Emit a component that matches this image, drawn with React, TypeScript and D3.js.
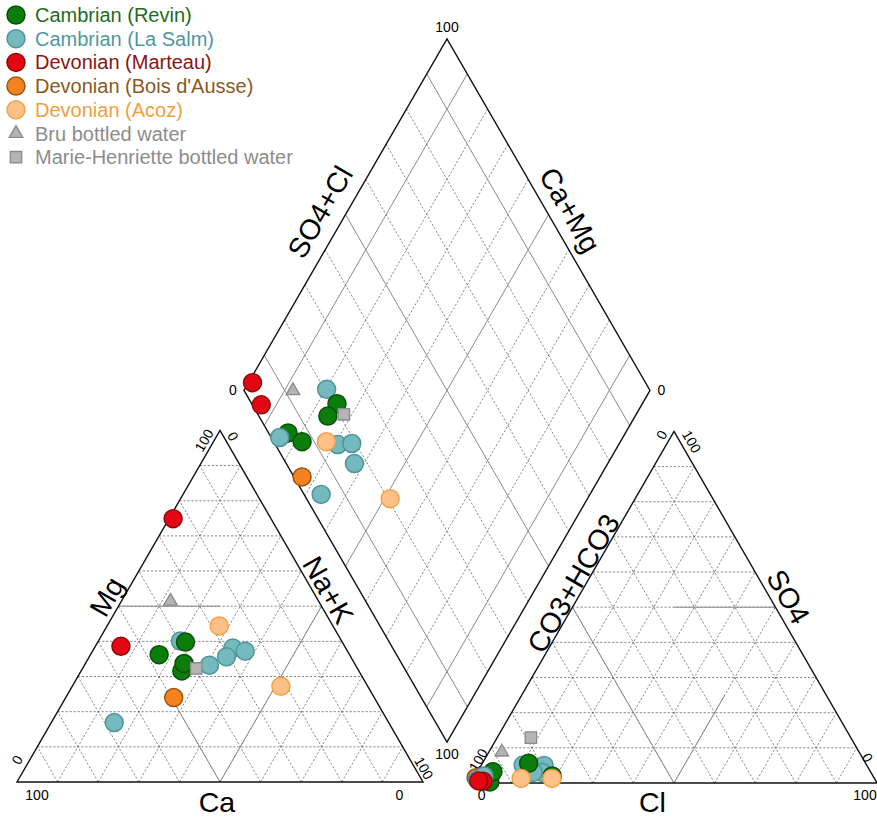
import React from "react";
import * as d3 from "d3";

// Legend / series names
const seriesNames = [
  "Cambrian (Revin)",
  "Cambrian (La Salm)",
  "Devonian (Marteau)",
  "Devonian (Bois d'Ausse)",
  "Devonian (Acoz)",
  "Bru bottled water",
  "Marie-Henriette bottled water",
];

// Samples (meq %), listed in drawing order; sampleSeries indexes seriesNames
const sampleSeries = [0, 1, 1, 1, 1, 0, 0, 0, 3, 1, 1, 4, 4, 2, 2, 5, 6];
const caPct = [46.9, 39.7, 36.0, 27.8, 25.2, 43.6, 42.0, 38.6, 49.4, 67.6, 30.6, 28.0, 21.4, 24.1, 55.1, 36.5, 39.7];
const mgPct = [36.2, 40.1, 33.2, 38.1, 37.2, 31.6, 33.7, 39.8, 24.0, 16.9, 35.6, 44.4, 27.2, 74.9, 38.6, 51.4, 32.3];
const naKPct = [16.9, 20.2, 30.8, 34.1, 37.6, 24.8, 24.3, 21.6, 26.6, 15.5, 33.8, 27.6, 51.4, 1.0, 6.3, 12.1, 28.0];
const hco3Pct = [95.2, 79.5, 84.6, 81.0, 83.2, 79.0, 83.0, 93.0, 98.0, 97.9, 95.8, 87.0, 79.4, 96.8, 97.8, 88.0, 78.8];
const so4Pct = [0.3, 5.0, 5.1, 3.0, 3.0, 2.0, 5.6, 3.2, 1.5, 1.0, 2.0, 1.3, 1.3, 0.5, 0.6, 8.8, 12.9];
const clPct = [4.5, 15.5, 10.3, 16.0, 13.8, 19.0, 11.4, 3.8, 0.5, 1.1, 2.2, 11.7, 19.3, 2.7, 1.6, 3.2, 8.3];

const gridSteps = [10, 20, 30, 40, 50, 60, 70, 80, 90];

// Styling
const FONT = "'Liberation Sans', Arial, Helvetica, sans-serif";
const seriesFill = ["#0b7d0b", "#74b9bd", "#e30613", "#f5821f", "#fdc086", "#b4b4b4", "#b4b4b4"];
const seriesStroke = ["#0a4f0a", "#4e9499", "#8f0a0a", "#9c5311", "#f2a245", "#8a8a8a", "#8a8a8a"];
const seriesText = ["#1f6b1f", "#4f989d", "#8a1414", "#8a5a1c", "#f0a040", "#8c8c8c", "#8c8c8c"];
const seriesShape = ["circle", "circle", "circle", "circle", "circle", "triangle", "square"];

type Pt = [number, number];

const SIDE = 406;
const H = (SIDE * Math.sqrt(3)) / 2;
const cationO: Pt = [17, 782];
const anionO: Pt = [471, 783];
const diamondB: Pt = [447, 742];

// Ternary projection: "right" = component at the right vertex, "top" = component at the apex
function ternary(origin: Pt) {
  const xs = d3.scaleLinear().domain([0, 100]).range([origin[0], origin[0] + SIDE]);
  const ys = d3.scaleLinear().domain([0, 100]).range([origin[1], origin[1] - H]);
  return (right: number, top: number): Pt => [xs(right + top / 2), ys(top)];
}
const cat = ternary(cationO);
const ani = ternary(anionO);

// Diamond: s = SO4+Cl (left vertex 0 -> top 100), n = Na+K (= 100 - (Ca+Mg))
const dLeft: Pt = [diamondB[0] - SIDE / 2, diamondB[1] - H];
const dRight: Pt = [diamondB[0] + SIDE / 2, diamondB[1] - H];
const dTop: Pt = [diamondB[0], diamondB[1] - 2 * H];
const dxs = d3.scaleLinear().domain([0, 200]).range([dLeft[0], dRight[0]]);
const dys = d3.scaleLinear().domain([-100, 100]).range([dTop[1], diamondB[1]]);
const dia = (s: number, n: number): Pt => [dxs(s + n), dys(n - s)];

const line = d3.line<Pt>();

const DASH = { stroke: "#555", strokeWidth: 0.7, strokeDasharray: "2.2,1.8", fill: "none" };
const SOLID = { stroke: "#8a8a8a", strokeWidth: 1, fill: "none" };
const EDGE = { stroke: "#111", strokeWidth: 1.4, fill: "none" };

function Seg({ a, b, style }: { a: Pt; b: Pt; style: any }) {
  return <path d={line([a, b]) as string} {...style} />;
}

function triangleGrid(proj: (r: number, t: number) => Pt, key: string) {
  const out: any[] = [];
  gridSteps.forEach((t) => {
    // top component constant
    out.push(<Seg key={`${key}t${t}`} a={proj(0, t)} b={proj(100 - t, t)} style={DASH} />);
    // right component constant
    out.push(<Seg key={`${key}r${t}`} a={proj(t, 0)} b={proj(t, 100 - t)} style={DASH} />);
    // left component constant (right + top = 100 - t)
    out.push(<Seg key={`${key}l${t}`} a={proj(100 - t, 0)} b={proj(0, 100 - t)} style={DASH} />);
  });
  return out;
}

function Marker({ p, series }: { p: Pt; series: number }) {
  const shape = seriesShape[series];
  const fill = seriesFill[series];
  const stroke = seriesStroke[series];
  if (shape === "circle") {
    return <circle cx={p[0]} cy={p[1]} r={9} fill={fill} stroke={stroke} strokeWidth={1.5} />;
  }
  const sym = d3
    .symbol()
    .type(shape === "triangle" ? d3.symbolTriangle : d3.symbolSquare)
    .size(shape === "triangle" ? 80 : 130)();
  return (
    <path d={sym as string} transform={`translate(${p[0]},${p[1]})`} fill={fill} stroke={stroke} strokeWidth={1.3} />
  );
}

function Label({ x, y, text, size, rotate = 0 }: { x: number; y: number; text: string; size: number; rotate?: number }) {
  return (
    <text
      transform={`translate(${x},${y}) rotate(${rotate})`}
      textAnchor="middle"
      dominantBaseline="central"
      fontFamily={FONT}
      fontSize={size}
      fill="#000"
    >
      {text}
    </text>
  );
}

export default function App() {
  const cl = cationO;
  const cr: Pt = [cationO[0] + SIDE, cationO[1]];
  const ca: Pt = [cationO[0] + SIDE / 2, cationO[1] - H];
  const al = anionO;
  const ar: Pt = [anionO[0] + SIDE, anionO[1]];
  const aa: Pt = [anionO[0] + SIDE / 2, anionO[1] - H];

  const diamondGrid: any[] = [];
  gridSteps.forEach((t) => {
    const st = t === 10 || t === 50 || t === 90 ? SOLID : DASH;
    diamondGrid.push(<Seg key={`ds${t}`} a={dia(t, 0)} b={dia(t, 100)} style={st} />);
    diamondGrid.push(<Seg key={`dn${t}`} a={dia(0, t)} b={dia(100, t)} style={st} />);
  });

  const TICK = 14;
  const AXIS = 28.5;

  return (
    <svg width={877} height={818} style={{ position: "absolute", left: 0, top: 0, background: "#fff" }}>
      <rect x={0} y={0} width={877} height={818} fill="#fff" />

      {/* cation triangle */}
      {triangleGrid(cat, "c")}
      <Seg a={cat(0, 50)} b={cat(25, 50)} style={SOLID} />
      <Seg a={cat(50, 0)} b={cat(25, 25)} style={SOLID} />
      <Seg a={cat(50, 0)} b={cat(50, 50)} style={SOLID} />
      <path d={(line([cl, cr, ca]) as string) + "Z"} {...EDGE} />

      {/* anion triangle */}
      {triangleGrid(ani, "a")}
      <Seg a={ani(25, 50)} b={ani(50, 50)} style={SOLID} />
      <Seg a={ani(50, 0)} b={ani(0, 50)} style={SOLID} />
      <Seg a={ani(50, 0)} b={ani(50, 25)} style={SOLID} />
      <path d={(line([al, ar, aa]) as string) + "Z"} {...EDGE} />

      {/* diamond */}
      {diamondGrid}
      <path d={(line([dLeft, dTop, dRight, diamondB]) as string) + "Z"} {...EDGE} />

      {/* tick labels */}
      <Label x={cl[0] + 20} y={cl[1] + 13} text="100" size={TICK} />
      <Label x={cr[0] - 23.5} y={cr[1] + 13} text="0" size={TICK} />
      <Label x={cl[0]} y={cl[1] - 22} text="0" size={TICK} rotate={-60} />
      <Label x={ca[0] - 16} y={ca[1] + 10} text="100" size={TICK} rotate={-60} />
      <Label x={ca[0] + 13} y={ca[1] + 6} text="0" size={TICK} rotate={60} />
      <Label x={cr[0] + 1} y={cr[1] - 14} text="100" size={TICK} rotate={60} />

      <Label x={481.7} y={795} text="0" size={TICK} />
      <Label x={865} y={795} text="100" size={TICK} />
      <Label x={478.3} y={760} text="100" size={TICK} rotate={-60} />
      <Label x={661.7} y={435} text="0" size={TICK} rotate={-60} />
      <Label x={691.7} y={441.7} text="100" size={TICK} rotate={60} />
      <Label x={867.5} y={757.5} text="0" size={TICK} rotate={60} />

      <Label x={dTop[0]} y={dTop[1] - 12} text="100" size={TICK} />
      <Label x={dLeft[0] - 11} y={dLeft[1]} text="0" size={TICK} />
      <Label x={dRight[0] + 11.5} y={dRight[1]} text="0" size={TICK} />
      <Label x={diamondB[0]} y={diamondB[1] + 12} text="100" size={TICK} />

      {/* axis titles */}
      <text x={217} y={812} textAnchor="middle" fontFamily={FONT} fontSize={AXIS}>Ca</text>
      <text x={652.5} y={812} textAnchor="middle" fontFamily={FONT} fontSize={AXIS}>Cl</text>
      <Label x={106.7} y={596.7} text="Mg" size={AXIS} rotate={-60} />
      <Label x={328.3} y={590} text="Na+K" size={AXIS} rotate={60} />
      <Label x={573.3} y={583.3} text="CO3+HCO3" size={AXIS} rotate={-60} />
      <Label x={788.3} y={596.7} text="SO4" size={AXIS} rotate={60} />
      <Label x={320} y={212} text="SO4+Cl" size={AXIS} rotate={-60} />
      <Label x={570} y={210} text="Ca+Mg" size={AXIS} rotate={60} />

      {/* samples */}
      {sampleSeries.map((s, i) => (
        <g key={`smp${i}`}>
          <Marker p={cat(naKPct[i], mgPct[i])} series={s} />
          <Marker p={ani(clPct[i], so4Pct[i])} series={s} />
          <Marker p={dia(so4Pct[i] + clPct[i], naKPct[i])} series={s} />
        </g>
      ))}

      {/* legend */}
      {seriesNames.map((name, i) => {
        const y = 15 + i * 23.7;
        return (
          <g key={`leg${i}`}>
            <Marker p={[16, y]} series={i} />
            <text x={35} y={y} dominantBaseline="central" fontFamily={FONT} fontSize={20} fill={seriesText[i]}>
              {name}
            </text>
          </g>
        );
      })}
    </svg>
  );
}
